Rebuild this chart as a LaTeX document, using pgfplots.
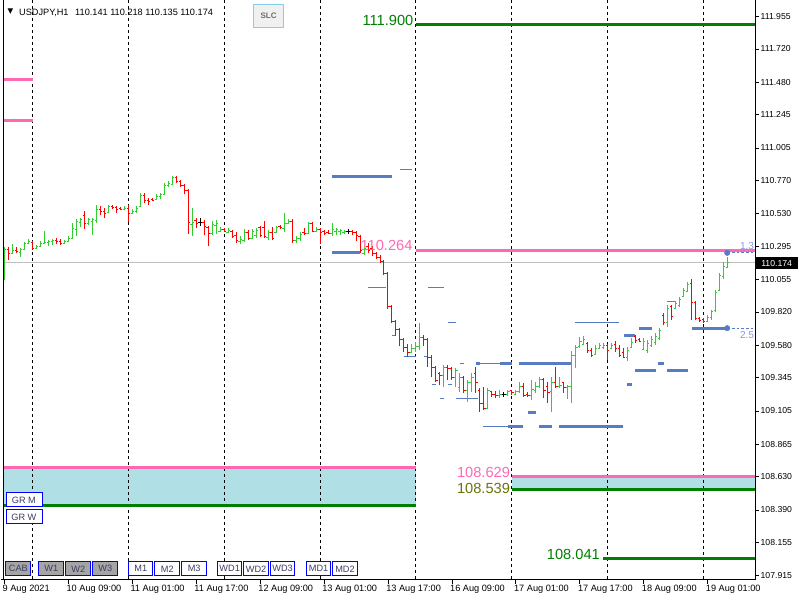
\documentclass[border=0pt]{standalone}
\usepackage{fontspec}
\setmainfont{Liberation Sans}
\newfontfamily\dejavu{DejaVu Sans}
\usepackage{pgfplots}
\usepackage{pgfplotstable}
\pgfplotsset{compat=1.18}
\definecolor{barG}{RGB}{50,205,50}
\definecolor{barR}{RGB}{255,0,0}
\definecolor{lvlBlue}{RGB}{88,124,196}
\definecolor{lvlPink}{RGB}{255,105,180}
\definecolor{lvlGreen}{RGB}{0,128,0}
\definecolor{boxFill}{RGB}{176,224,230}
\definecolor{curGray}{RGB}{192,192,192}
\definecolor{txtOlive}{RGB}{110,115,10}
\definecolor{txtLav}{RGB}{140,150,225}
\definecolor{btnGray}{RGB}{165,165,165}
\definecolor{btnBlue}{RGB}{0,0,255}
\definecolor{btnTxt}{RGB}{60,60,100}
\definecolor{slcFill}{RGB}{240,240,240}
\definecolor{slcBorder}{RGB}{135,206,235}
\definecolor{slcTxt}{RGB}{110,110,110}
\pgfdeclareplotmark{otick}{\pgfpathmoveto{\pgfqpoint{-1.3pt}{0pt}}\pgfpathlineto{\pgfqpoint{0pt}{0pt}}\pgfusepathqstroke}
\pgfdeclareplotmark{ctick}{\pgfpathmoveto{\pgfqpoint{0pt}{0pt}}\pgfpathlineto{\pgfqpoint{1.3pt}{0pt}}\pgfusepathqstroke}
\pgfdeclareplotmark{nothing}{}
% hourly OHLC bars, h = hours since 10 Aug 00:00 (weekend removed)
\pgfplotstableread{
h o hi lo c
-7 110.086 110.288 110.050 110.273
-5 110.245 110.310 110.237 110.266
-3 110.252 110.281 110.216 110.273
-2 110.273 110.324 110.266 110.317
-1 110.317 110.346 110.310 110.331
1 110.281 110.302 110.273 110.295
2 110.295 110.331 110.288 110.317
3 110.317 110.403 110.310 110.324
4 110.324 110.338 110.295 110.331
5 110.331 110.346 110.302 110.338
8 110.317 110.338 110.310 110.331
9 110.331 110.367 110.324 110.353
10 110.353 110.461 110.346 110.425
11 110.418 110.490 110.367 110.475
12 110.468 110.497 110.432 110.490
14 110.461 110.497 110.447 110.490
15 110.475 110.497 110.374 110.490
16 110.483 110.591 110.461 110.562
19 110.540 110.591 110.533 110.584
23 110.562 110.584 110.555 110.569
25 110.533 110.562 110.526 110.548
26 110.548 110.584 110.533 110.569
27 110.584 110.678 110.576 110.663
31 110.634 110.670 110.627 110.656
32 110.656 110.678 110.634 110.670
33 110.670 110.750 110.663 110.735
34 110.735 110.764 110.721 110.750
35 110.742 110.800 110.735 110.793
40 110.454 110.569 110.367 110.468
45 110.389 110.475 110.374 110.454
46 110.447 110.483 110.382 110.461
47 110.403 110.432 110.396 110.418
49 110.396 110.425 110.389 110.411
52 110.331 110.367 110.310 110.346
53 110.338 110.418 110.324 110.396
55 110.353 110.418 110.346 110.403
56 110.374 110.425 110.353 110.411
59 110.360 110.411 110.338 110.396
61 110.396 110.439 110.389 110.432
63 110.425 110.533 110.396 110.461
64 110.461 110.490 110.454 110.475
66 110.338 110.367 110.317 110.353
67 110.353 110.396 110.331 110.382
69 110.389 110.468 110.382 110.461
71 110.403 110.432 110.396 110.418
75 110.389 110.461 110.367 110.418
76 110.403 110.425 110.374 110.418
77 110.403 110.418 110.374 110.411
78 110.396 110.411 110.382 110.403
83 110.245 110.295 110.230 110.281
95 109.530 109.588 109.523 109.559
96 109.559 109.602 109.530 109.574
97 109.574 109.740 109.545 109.639
103 109.364 109.436 109.278 109.422
106 109.343 109.415 109.278 109.400
107 109.271 109.379 109.242 109.350
109 109.256 109.328 109.170 109.314
110 109.307 109.379 109.242 109.350
114 109.126 109.271 109.119 109.256
117 109.213 109.256 109.198 109.227
119 109.227 109.256 109.213 109.242
121 109.227 109.256 109.220 109.242
122 109.242 109.314 109.235 109.285
125 109.213 109.328 109.184 109.263
126 109.256 109.314 109.235 109.278
127 109.278 109.350 109.271 109.335
130 109.242 109.350 109.097 109.307
132 109.278 109.350 109.271 109.292
134 109.271 109.292 109.191 109.285
135 109.278 109.538 109.162 109.509
136 109.509 109.581 109.415 109.566
137 109.574 109.639 109.559 109.610
138 109.588 109.646 109.581 109.624
141 109.516 109.581 109.509 109.559
142 109.559 109.595 109.552 109.581
143 109.566 109.595 109.552 109.581
145 109.559 109.595 109.552 109.581
149 109.494 109.566 109.465 109.545
150 109.566 109.631 109.559 109.602
153 109.552 109.631 109.545 109.610
154 109.545 109.617 109.523 109.595
155 109.581 109.646 109.566 109.624
156 109.602 109.667 109.581 109.646
157 109.631 109.703 109.617 109.689
159 109.747 109.869 109.711 109.848
161 109.848 109.898 109.841 109.884
162 109.869 109.927 109.855 109.913
163 109.934 109.992 109.927 109.978
164 109.970 110.035 109.963 110.021
169 109.754 109.797 109.747 109.783
170 109.783 109.833 109.761 109.826
171 109.833 109.978 109.819 109.963
172 109.978 110.100 109.978 110.086
173 110.079 110.180 110.057 110.151
174 110.141 110.218 110.135 110.174
}\upbars
\pgfplotstableread{
h o hi lo c
-6 110.273 110.288 110.194 110.245
-4 110.266 110.288 110.245 110.259
0 110.324 110.331 110.266 110.281
6 110.338 110.353 110.310 110.331
7 110.331 110.346 110.302 110.317
13 110.519 110.548 110.418 110.461
17 110.562 110.584 110.519 110.548
18 110.548 110.569 110.497 110.533
20 110.584 110.591 110.562 110.576
21 110.576 110.584 110.533 110.562
22 110.569 110.576 110.555 110.562
24 110.569 110.591 110.468 110.533
28 110.663 110.678 110.605 110.627
29 110.627 110.641 110.591 110.620
30 110.634 110.641 110.620 110.627
36 110.793 110.800 110.750 110.764
37 110.764 110.771 110.721 110.735
38 110.735 110.742 110.670 110.699
39 110.699 110.706 110.382 110.468
41 110.483 110.497 110.425 110.461
43 110.468 110.483 110.374 110.439
44 110.432 110.439 110.295 110.389
48 110.418 110.425 110.396 110.403
50 110.403 110.411 110.353 110.367
51 110.374 110.396 110.317 110.338
54 110.396 110.411 110.338 110.353
57 110.432 110.439 110.360 110.374
58 110.432 110.475 110.353 110.367
60 110.396 110.432 110.338 110.353
62 110.439 110.447 110.418 110.432
65 110.475 110.490 110.317 110.338
68 110.396 110.425 110.374 110.389
70 110.461 110.468 110.396 110.403
72 110.418 110.425 110.310 110.396
73 110.403 110.411 110.374 110.389
74 110.396 110.411 110.382 110.389
80 110.403 110.411 110.374 110.396
81 110.396 110.403 110.331 110.374
82 110.367 110.374 110.245 110.266
84 110.295 110.317 110.245 110.266
85 110.281 110.295 110.223 110.245
86 110.245 110.252 110.201 110.216
87 110.216 110.230 110.172 110.187
88 110.187 110.194 110.086 110.100
89 110.100 110.108 109.841 109.862
90 109.862 109.869 109.740 109.754
91 109.754 109.761 109.646 109.696
92 109.696 109.703 109.574 109.624
93 109.624 109.631 109.530 109.566
94 109.566 109.588 109.494 109.530
98 109.639 109.653 109.574 109.624
99 109.624 109.631 109.422 109.494
100 109.494 109.509 109.350 109.422
101 109.422 109.429 109.314 109.328
102 109.379 109.386 109.292 109.364
104 109.422 109.436 109.328 109.408
105 109.415 109.422 109.328 109.343
108 109.350 109.357 109.235 109.256
111 109.379 109.422 109.235 109.307
112 109.256 109.271 109.097 109.162
113 109.162 109.278 109.112 109.126
115 109.242 109.249 109.206 109.227
116 109.227 109.249 109.198 109.213
120 109.249 109.256 109.220 109.235
123 109.285 109.307 109.206 109.220
124 109.227 109.242 109.206 109.213
128 109.335 109.343 109.198 109.256
129 109.278 109.314 109.162 109.235
131 109.307 109.422 109.271 109.285
133 109.307 109.314 109.235 109.271
139 109.595 109.602 109.523 109.545
140 109.545 109.559 109.494 109.509
144 109.581 109.588 109.473 109.545
146 109.588 109.610 109.530 109.559
147 109.559 109.581 109.494 109.509
148 109.530 109.559 109.487 109.494
151 109.646 109.653 109.595 109.617
152 109.624 109.631 109.602 109.610
158 109.797 109.812 109.725 109.747
160 109.862 109.869 109.761 109.790
165 110.028 110.057 109.761 109.891
166 109.891 109.898 109.761 109.776
167 109.776 109.783 109.747 109.761
168 109.768 109.776 109.740 109.754
}\dnbars
\pgfplotstableread{
h o hi lo c
42 110.468 110.497 110.439 110.468
79 110.403 110.418 110.382 110.403
118 109.227 109.242 109.206 109.227
}\eqbars
\pgfplotsset{
  hlbar/.style={only marks, mark=nothing, error bars/.cd, y dir=plus, y explicit, error mark=none, error bar style={line width=0.75pt, #1}},
}
\begin{document}
\begin{tikzpicture}
\fill[white] (0,0) rectangle (600pt,450pt);
\begin{axis}[
  at={(2.25pt,15pt)}, anchor=south west, scale only axis,
  width=564pt, height=435pt,
  xmin=-7.125, xmax=180.875, ymin=107.885, ymax=112.070,
  axis x line*=bottom, axis y line*=right,
  axis line style={-, black, line width=0.75pt},
  tick align=outside, major tick length=3pt,
  tick style={black, line width=0.6pt},
  xtick={-7,9,25,41,57,73,89,105,121,137,153,169},
  xticklabels={9 Aug 2021,10 Aug 09:00,11 Aug 01:00,11 Aug 17:00,12 Aug 09:00,13 Aug 01:00,13 Aug 17:00,16 Aug 09:00,17 Aug 01:00,17 Aug 17:00,18 Aug 09:00,19 Aug 01:00},
  ytick={107.915,108.155,108.390,108.630,108.865,109.105,109.345,109.580,109.820,110.055,110.295,110.530,110.770,111.005,111.245,111.480,111.720,111.955},
  yticklabels={107.915,108.155,108.390,108.630,108.865,109.105,109.345,109.580,109.820,110.055,110.295,110.530,110.770,111.005,111.245,111.480,111.720,111.955},
  xticklabel style={font=\fontsize{6.9}{8}\selectfont, anchor=north west, inner sep=0pt, xshift=-1.5pt, yshift=-1pt},
  yticklabel style={font=\fontsize{6.5}{8}\selectfont, anchor=west, inner sep=0pt, xshift=1pt},
  clip=false,
]
\addplot[fill=boxFill, draw=none, forget plot] coordinates {(-7.125,108.419) (96,108.419) (96,108.693) (-7.125,108.693)};
\addplot[fill=boxFill, draw=none, forget plot] coordinates {(120.125,108.539) (180.875,108.539) (180.875,108.629) (120.125,108.629)};
\addplot[curGray, line width=0.75pt] coordinates {(-7.125,110.174) (180.875,110.174)};
\pgfplotsinvokeforeach{0,24,48,72,96,120,144,168}{
  \draw[black, line width=0.75pt, dash pattern=on 2.25pt off 2.25pt] (axis cs:#1,112.070) -- (axis cs:#1,107.885);
}
\addplot[lvlPink, line width=2.25pt] coordinates {(-7.125,111.500) (0.125,111.500)};
\addplot[lvlPink, line width=2.25pt] coordinates {(-7.125,111.204) (0.125,111.204)};
\addplot[lvlPink, line width=2.25pt] coordinates {(-7.125,108.693) (96,108.693)};
\addplot[lvlGreen, line width=2.25pt] coordinates {(-7.125,108.419) (96,108.419)};
\addplot[lvlGreen, line width=2.25pt] coordinates {(95.9,111.900) (180.875,111.900)};
\addplot[lvlPink, line width=2.25pt] coordinates {(95.9,110.264) (180.875,110.264)};
\addplot[lvlPink, line width=2.25pt] coordinates {(120.125,108.629) (180.875,108.629)};
\addplot[lvlGreen, line width=2.25pt] coordinates {(120.125,108.539) (180.875,108.539)};
\addplot[lvlGreen, line width=2.25pt] coordinates {(142.9,108.041) (180.875,108.041)};
\addplot[lvlBlue, line width=2.25pt, unbounded coords=jump] coordinates {
(74.9,110.800) (90.1,110.800) (90.1,nan)
(74.9,110.252) (82.1,110.252) (82.1,nan)
(111.1,109.451) (112.1,109.451) (112.1,nan)
(117.1,109.451) (120.1,109.451) (120.1,nan)
(121.9,109.451) (135.1,109.451) (135.1,nan)
(156.6,109.451) (158.1,109.451) (158.1,nan)
(119.1,108.996) (122.9,108.996) (122.9,nan)
(126.9,108.996) (130.1,108.996) (130.1,nan)
(131.9,108.996) (147.9,108.996) (147.9,nan)
(124.1,109.097) (126.1,109.097) (126.1,nan)
(148.9,109.299) (150.1,109.299) (150.1,nan)
(150.9,109.400) (156.1,109.400) (156.1,nan)
(158.9,109.400) (164.1,109.400) (164.1,nan)
(151.9,109.703) (155.1,109.703) (155.1,nan)
(165.1,109.703) (173.9,109.703) (173.9,nan)
(148.1,109.653) (150.9,109.653)
};
\addplot[lvlBlue, line width=0.75pt, unbounded coords=jump] coordinates {
(91.9,110.851) (94.9,110.851) (94.9,nan)
(83.9,109.999) (88.6,109.999) (88.6,nan)
(98.9,109.999) (102.9,109.999) (102.9,nan)
(103.9,109.747) (105.9,109.747) (105.9,nan)
(135.9,109.747) (146.9,109.747) (146.9,nan)
(89.9,109.653) (90.9,109.653) (90.9,nan)
(92.9,109.501) (96.1,109.501) (96.1,nan)
(97.9,109.501) (98.9,109.501) (98.9,nan)
(99.9,109.299) (100.9,109.299) (100.9,nan)
(103.9,109.299) (104.9,109.299) (104.9,nan)
(101.9,109.198) (102.9,109.198) (102.9,nan)
(105.9,109.198) (111.6,109.198) (111.6,nan)
(106.9,109.451) (107.9,109.451) (107.9,nan)
(112.1,109.451) (117.1,109.451) (117.1,nan)
(112.9,108.996) (119.1,108.996) (119.1,nan)
(158.9,109.898) (160.9,109.898)
};
\addplot[lvlBlue, line width=0.75pt, dash pattern=on 2pt off 1.5pt] coordinates {(173.9,110.247) (180.875,110.247)};
\addplot[lvlBlue, line width=0.75pt, dash pattern=on 2pt off 1.5pt] coordinates {(173.9,109.703) (180.875,109.703)};
\addplot[lvlBlue, only marks, mark=*, mark size=2pt] coordinates {(173.9,110.247) (173.9,109.703)};
\addplot[barG, hlbar=barG] table[x=h, y=lo, y error plus expr=\thisrow{hi}-\thisrow{lo}] {\upbars};
\addplot[barR, hlbar=barR] table[x=h, y=lo, y error plus expr=\thisrow{hi}-\thisrow{lo}] {\dnbars};
\addplot[black, hlbar=black] table[x=h, y=lo, y error plus expr=\thisrow{hi}-\thisrow{lo}] {\eqbars};
\addplot[barG, only marks, mark=otick, mark options={line width=0.75pt}] table[x=h, y=o] {\upbars};
\addplot[barG, only marks, mark=ctick, mark options={line width=0.75pt}] table[x=h, y=c] {\upbars};
\addplot[barR, only marks, mark=otick, mark options={line width=0.75pt}] table[x=h, y=o] {\dnbars};
\addplot[barR, only marks, mark=ctick, mark options={line width=0.75pt}] table[x=h, y=c] {\dnbars};
\addplot[black, only marks, mark=otick, mark options={line width=0.75pt}] table[x=h, y=o] {\eqbars};
\addplot[black, only marks, mark=ctick, mark options={line width=0.75pt}] table[x=h, y=c] {\eqbars};
\node[anchor=base east, inner sep=0pt, text=lvlGreen, font=\fontsize{11}{12}\selectfont, yshift=-1pt] at (axis cs:95.4,111.900) {111.900};
\node[anchor=base east, inner sep=0pt, text=lvlPink, font=\fontsize{11}{12}\selectfont] at (axis cs:95.2,110.264) {110.264};
\node[anchor=base east, inner sep=0pt, text=lvlPink, font=\fontsize{11}{12}\selectfont, yshift=-0.8pt] at (axis cs:119.6,108.629) {108.629};
\node[anchor=base east, inner sep=0pt, text=txtOlive, font=\fontsize{11}{12}\selectfont, yshift=-3.5pt] at (axis cs:119.6,108.539) {108.539};
\node[anchor=base east, inner sep=0pt, text=lvlGreen, font=\fontsize{11}{12}\selectfont, yshift=-1.2pt] at (axis cs:142.1,108.041) {108.041};
\node[anchor=base east, inner sep=0pt, text=txtLav, font=\fontsize{7.6}{8}\selectfont] at (axis cs:180.7,110.273) {1.3};
\node[anchor=base east, inner sep=0pt, text=txtLav, font=\fontsize{7.6}{8}\selectfont] at (axis cs:180.7,109.631) {2.5};
\end{axis}
\begin{scope}[shift={(0pt,450pt)}, x=0.75pt, y=-0.75pt]
  \draw[black, line width=0.75pt] (3,0) -- (3,580);
  \draw[black, line width=0.75pt] (0,580) -- (3,580);
  \node[inner sep=0pt, font=\dejavu\fontsize{5.5}{6}\selectfont] at (9.5,11) {▼};
  \node[anchor=west, inner sep=0pt, font=\fontsize{6.9}{8}\selectfont] at (18,12) {USDJPY,H1\hspace{5pt}110.141 110.218 110.135 110.174};
  \draw[slcBorder, fill=slcFill, line width=0.75pt] (253,4) rectangle (283,27);
  \node[inner sep=0pt, text=slcTxt, font=\fontsize{6}{7}\selectfont\bfseries] at (268,15.5) {SLC};
  \fill[black] (756,257) rectangle (798,269);
  \node[anchor=west, inner sep=0pt, text=white, font=\fontsize{6.5}{8}\selectfont] at (761,263) {110.174};
  \draw[btnBlue, fill=white, line width=0.75pt] (6,493) rectangle (42,507);
  \node[inner sep=0pt, text=btnTxt, font=\fontsize{6.9}{8}\selectfont] at (23,500) {GR M};
  \draw[btnBlue, fill=white, line width=0.75pt] (6,510) rectangle (42,524);
  \node[inner sep=0pt, text=btnTxt, font=\fontsize{6.9}{8}\selectfont] at (23,517) {GR W};
  \foreach \a/\b/\f/\t in {5/30/btnGray/CAB, 38/63/btnGray/W1, 65/90/btnGray/W2, 92/117/btnGray/W3, 128/152/white/M1, 154/179/white/M2, 181/206/white/M3, 217/241/white/WD1, 243/268/white/WD2, 270/294/white/WD3, 306/330/white/MD1, 332/357/white/MD2}{
    \draw[btnBlue, fill=\f, line width=0.75pt] (\a,562) rectangle (\b,576);
    \node[inner sep=0pt, text=btnTxt, font=\fontsize{6.9}{8}\selectfont] at ({(\a+\b)/2},569) {\t};
  }
\end{scope}
\end{tikzpicture}
\end{document}
